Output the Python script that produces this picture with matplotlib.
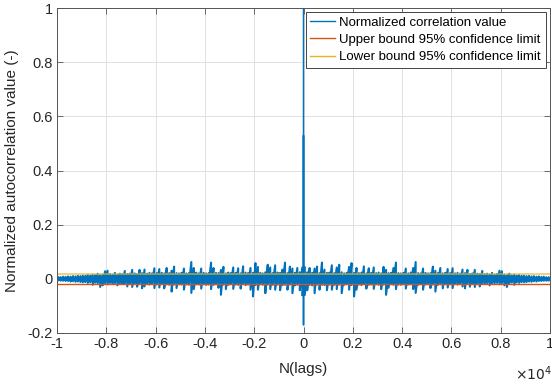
import numpy as np
import matplotlib
matplotlib.use("Agg")
import matplotlib.pyplot as plt

plt.rcParams["font.family"] = ["Liberation Sans", "DejaVu Sans"]

# Envelope of the normalized autocorrelation, in thousandths,
# for lags 50, 150, ..., 9950. The autocorrelation is symmetric in lag, so the
# negative-lag half is the mirror of these.
lag_pos = np.arange(50, 10000, 100)
upper_k = [
    42, 24, 40, 22, 38, 45, 21, 60, 34, 22,
    23, 50, 21, 42, 52, 24, 20, 22, 44, 58,
    22, 40, 21, 23, 46, 20, 39, 22, 42, 21,
    23, 20, 44, 33, 21, 22, 40, 60, 21, 20,
    22, 38, 20, 23, 40, 62, 21, 20, 38, 22,
    20, 21, 45, 30, 21, 40, 20, 22, 36, 21,
    39, 20, 22, 19, 34, 21, 33, 18, 20, 33,
    19, 18, 29, 17, 19, 16, 22, 15, 18, 30,
    28, 15, 14, 19, 13, 15, 12, 14, 11, 12,
    10, 11, 9, 10, 8, 9, 7, 8, 6, 6,
]
lower_k = [
    60, 42, 22, 24, 53, 21, 40, 22, 23, 42,
    21, 40, 22, 38, 21, 53, 22, 20, 40, 23,
    65, 40, 21, 23, 20, 36, 22, 21, 37, 20,
    22, 38, 21, 59, 33, 20, 22, 38, 21, 22,
    20, 36, 21, 20, 38, 52, 22, 20, 40, 21,
    20, 34, 21, 47, 22, 20, 35, 19, 32, 20,
    34, 19, 21, 18, 28, 35, 18, 29, 19, 30,
    18, 28, 17, 19, 16, 24, 16, 17, 15, 20,
    16, 24, 30, 16, 14, 22, 13, 15, 12, 13,
    12, 10, 11, 9, 10, 8, 8, 7, 7, 6,
]
# samples around zero lag
center_lags = [-3, -2, -1, 0, 1, 2, 3]
center_vals = [-0.06, 0.53, -0.17, 1.0, -0.17, 0.53, -0.06]

conf = 0.0196            # 1.96 / sqrt(N)
upper_bound = -conf      # as drawn in the original figure
lower_bound = conf

C_BLUE = "#0072BD"
C_ORANGE = "#D95319"
C_YELLOW = "#EDB120"


def main():
    up = np.array(upper_k) / 1000.0
    lo = -np.array(lower_k) / 1000.0
    x_right = np.repeat(lag_pos, 2)
    y_right = np.column_stack([up, lo]).ravel()
    x_left = np.repeat(-lag_pos[::-1], 2)
    y_left = np.column_stack([up[::-1], lo[::-1]]).ravel()

    fig = plt.figure(figsize=(5.52, 3.87), dpi=100)
    ax = fig.add_axes([57 / 552, 54 / 387, 493 / 552, 325 / 387])

    # dense noise band drawn a bit wider, the zero-lag peak thin
    h1, = ax.plot(x_left, y_left, color=C_BLUE, lw=1.5,
                  label="Normalized correlation value")
    ax.plot(x_right, y_right, color=C_BLUE, lw=1.5)
    ax.plot(np.concatenate([x_left[-1:], center_lags, x_right[:1]]),
            np.concatenate([y_left[-1:], center_vals, y_right[:1]]),
            color=C_BLUE, lw=0.9)
    h2 = ax.axhline(upper_bound, color=C_ORANGE, lw=1.0,
                    label="Upper bound 95% confidence limit")
    h3 = ax.axhline(lower_bound, color=C_YELLOW, lw=1.2, alpha=0.7,
                    label="Lower bound 95% confidence limit")

    ax.set_xlim(-10000, 10000)
    ax.set_ylim(-0.2, 1.0)
    xt = np.arange(-10000, 10001, 2000)
    ax.set_xticks(xt)
    ax.set_xticklabels([f"{v / 1e4:g}" for v in xt])
    yt = np.arange(-0.2, 1.01, 0.2)
    ax.set_yticks(yt)
    ax.set_yticklabels(["0" if abs(v) < 1e-9 else f"{v:g}" for v in np.round(yt, 1)])

    ax.grid(True, color="#dcdcdc", lw=0.6)
    ax.set_axisbelow(True)
    for s in ax.spines.values():
        s.set_color("#555555")
        s.set_linewidth(0.7)
    ax.tick_params(direction="in", length=4, width=0.6, color="#555555",
                   labelsize=10.5, labelcolor="#262626",
                   top=True, right=True, pad=3)

    ax.set_xlabel("N(lags)", fontsize=11, color="#262626", labelpad=8)
    ax.set_ylabel("Normalized autocorrelation value (-)", fontsize=11,
                  color="#262626", labelpad=6)
    fig.text(1.0, 4 / 387, r"$\times10^{4}$", ha="right", va="bottom",
             fontsize=10, color="#262626")

    leg = ax.legend(handles=[h1, h2, h3], loc="upper right",
                    bbox_to_anchor=(0.991, 0.988), borderaxespad=0,
                    fontsize=9.5, fancybox=False, framealpha=1,
                    edgecolor="#262626", borderpad=0.35, labelspacing=0.38,
                    handlelength=1.9, handletextpad=0.3)
    leg.get_frame().set_linewidth(0.6)
    for lh in leg.get_lines():
        lh.set_alpha(1)
        lh.set_linewidth(1.0)

    fig.savefig("out.png", dpi=100)


if __name__ == "__main__":
    main()
